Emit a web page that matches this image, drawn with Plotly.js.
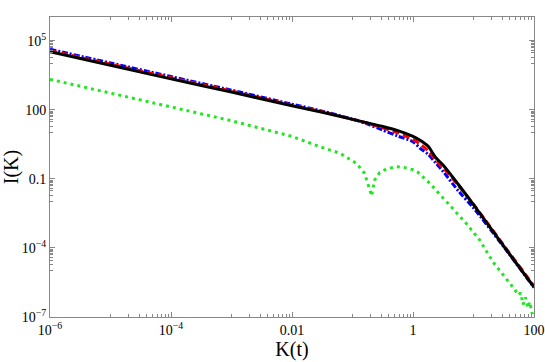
<!DOCTYPE html>
<html>
<head>
<meta charset="utf-8">
<script src="https://cdn.plot.ly/plotly-3.0.1.min.js"></script>
<style>
html, body { margin: 0; padding: 0; background: #fff; }
#grafico { width: 545px; height: 362px; }
</style>
</head>
<body>
<div id="grafico"></div>
<script>
// Grelha de K comum às três curvas de cima
const kGrid = [1e-6, 1e-5, 1e-4, 1e-3, 1e-2, 0.0316, 0.1, 0.178, 0.316, 0.562, 1, 1.33, 1.78, 2.37, 3.16, 5.62, 10, 31.6, 100];

// Curva preta (contínua)
const iBlack = [33900, 8710, 2240, 603, 151, 79.4, 38.9, 27.5, 19.1, 12.6, 7.08, 4.68, 2.63, 0.851, 0.398, 0.0575, 0.00759, 1.20e-4, 2.00e-6];
// Curva vermelha (tracejada)
const iRed = [38000, 9770, 2510, 661, 162, 83.2, 38.9, 26.3, 16.6, 10.0, 5.25, 3.16, 1.66, 0.676, 0.302, 0.0525, 0.00794, 1.32e-4, 2.19e-6];
// Curva azul (traço-ponto)
const iBlue = [43600, 11000, 2820, 724, 178, 89.1, 39.8, 24.0, 13.2, 7.24, 4.17, 2.09, 1.17, 0.501, 0.209, 0.0302, 0.00550, 1.12e-4, 1.91e-6];

// Curva verde (pontilhada), com mais pontos à volta do mínimo e o ruído no fim
const kGreen = [1e-6, 1e-5, 1e-4, 1e-3, 0.01, 0.0288, 0.0617, 0.116, 0.158, 0.181, 0.200, 0.206, 0.214, 0.233, 0.282, 0.365, 0.533, 0.708, 1, 1.21, 1.89, 3.55, 7.59, 12.6, 20.9, 30.9, 39.8, 47.9, 55.0, 60.3, 66.1, 72.4, 79.4, 85.1, 93.3, 100];
const iGreen = [2140, 550, 141, 33.9, 7.08, 2.51, 1.32, 0.479, 0.178, 0.0646, 0.0251, 0.0182, 0.0282, 0.0912, 0.191, 0.275, 0.343, 0.316, 0.251, 0.195, 0.0646, 0.0105, 0.00117, 2.24e-4, 2.51e-5, 6.76e-6, 2.95e-6, 1.58e-6, 8.9e-7, 1.12e-6, 3.5e-7, 7.1e-7, 2.5e-7, 4.5e-7, 1.4e-7, 2.2e-7];

// Marcas dos eixos
const xTickVals = [1e-6, 1e-4, 1e-2, 1, 100];
const xTickText = ['10<sup>−6</sup>', '10<sup>−4</sup>', '0.01', '1', '100'];
const yTickVals = [1e-7, 1e-4, 0.1, 100, 1e5];
const yTickText = ['10<sup>−7</sup>', '10<sup>−4</sup>', '0.1', '100', '10<sup>5</sup>'];

// marcas menores: 1..9 x a década abaixo de cada marca principal
function minorTicks(majors, lo, hi) {
    const out = [];
    majors.forEach(function (m) {
        for (let k = 1; k <= 9; k++) {
            const v = m / 10 * k;
            if (v >= lo && v <= hi) out.push(v);
        }
    });
    return out;
}

const data = [
    { x: kGreen, y: iGreen, type: 'scatter', mode: 'lines',
      line: { color: '#22e622', width: 3, dash: '3px,4px' } },
    { x: kGrid, y: iBlue, type: 'scatter', mode: 'lines',
      line: { color: '#0000ff', width: 3, dash: '6px,2px,2px,2px', shape: 'spline', smoothing: 0.8 } },
    { x: kGrid, y: iRed, type: 'scatter', mode: 'lines',
      line: { color: '#ff0000', width: 3, dash: '7px,4px', shape: 'spline', smoothing: 0.8 } },
    { x: kGrid, y: iBlack, type: 'scatter', mode: 'lines',
      line: { color: '#000000', width: 3, shape: 'spline', smoothing: 0.8 } }
];

const axisStyle = {
    type: 'log',
    tickmode: 'array',
    ticks: 'inside', ticklen: 5, tickwidth: 1, tickcolor: '#888',
    showline: true, linecolor: '#888', linewidth: 1, mirror: 'allticks',
    showgrid: false, zeroline: false,
    tickfont: { family: 'Liberation Serif', size: 14, color: '#000' }
};

const layout = {
    width: 545, height: 362,
    margin: { l: 50, r: 11, t: 17, b: 45 },
    showlegend: false,
    paper_bgcolor: '#ffffff',
    plot_bgcolor: '#ffffff',
    font: { family: 'Liberation Serif', size: 14, color: '#000' },
    xaxis: Object.assign({}, axisStyle, {
        range: [-6, 2],
        tickvals: xTickVals, ticktext: xTickText,
        minor: { tickmode: 'array', tickvals: minorTicks(xTickVals, 1e-6, 100),
                 ticks: 'inside', ticklen: 3, tickwidth: 1, tickcolor: '#888', showgrid: false },
        title: { text: 'K(t)', font: { family: 'Liberation Serif', size: 20 }, standoff: 4 }
    }),
    yaxis: Object.assign({}, axisStyle, {
        range: [-7, 6.04],
        tickvals: yTickVals, ticktext: yTickText,
        minor: { tickmode: 'array', tickvals: minorTicks(yTickVals, 1e-7, 1.1e6),
                 ticks: 'inside', ticklen: 3, tickwidth: 1, tickcolor: '#888', showgrid: false },
        title: { text: 'I(K)', font: { family: 'Liberation Serif', size: 20 }, standoff: 4 }
    })
};

Plotly.newPlot('grafico', data, layout, { displayModeBar: false, staticPlot: true });
</script>
</body>
</html>
